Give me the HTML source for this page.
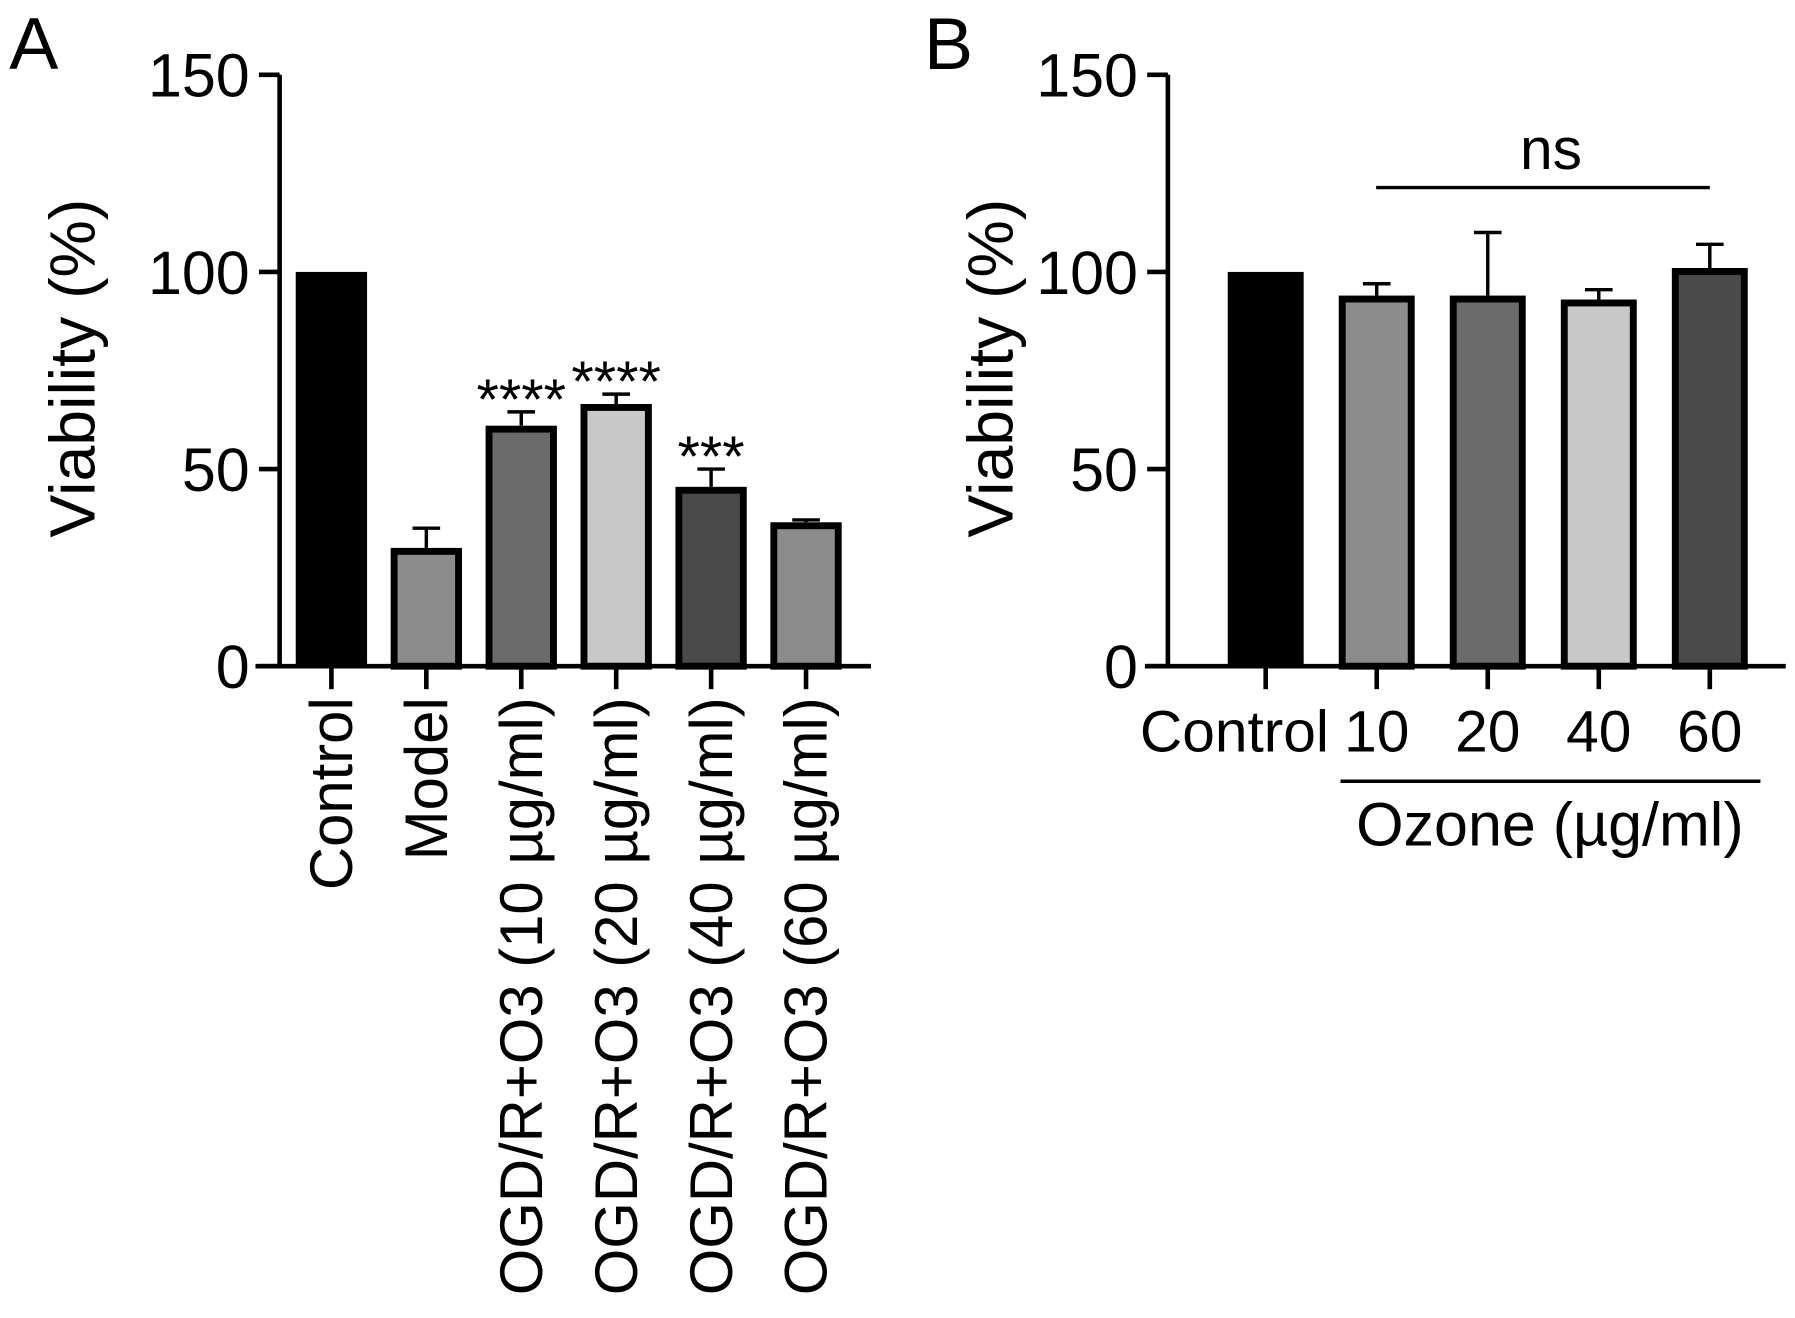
<!DOCTYPE html>
<html><head><meta charset="utf-8"><style>
html,body{margin:0;padding:0;background:#fff;}
svg{display:block;font-family:"Liberation Sans",Arial,sans-serif;}
</style></head><body>
<svg id="fig" width="1795" height="1318" viewBox="0 0 1560 1145.5">
<text x="8" y="60" font-size="64">A</text>
<text x="803" y="60" font-size="64">B</text>
<g id="pa"></g>
<g id="pb"></g>
</svg>
<script>
const catsA = ["Control","Model","OGD/R+O3 (10 µg/ml)","OGD/R+O3 (20 µg/ml)","OGD/R+O3 (40 µg/ml)","OGD/R+O3 (60 µg/ml)"];
const valsA = [100, 30, 61, 66.5, 45.5, 36.5];
const errA = [0, 5, 3.5, 2.5, 4.5, 0.6];
const fillsA = ["#000","#8c8c8c","#6b6b6b","#c8c8c8","#4a4a4a","#8c8c8c"];
const sigA = ["","","****","****","***",""];
const catsB = ["Control","10","20","40","60"];
const valsB = [100, 94, 94, 93, 101];
const errB = [0, 3, 16, 2.5, 6];
const fillsB = ["#000","#8c8c8c","#6b6b6b","#c8c8c8","#4a4a4a"];
const yTicks = [0, 50, 100, 150];

const NS="http://www.w3.org/2000/svg";
function mk(p,tag,attrs,txt){const e=document.createElementNS(NS,tag);for(const k in attrs)e.setAttribute(k,attrs[k]);if(txt!==undefined)e.textContent=txt;p.appendChild(e);return e;}
const y0=579, y150=65;
function yS(v){return y0-(v/150)*(y0-y150);}

function panel(g, axX, xStart, xEnd, centers, vals, errs, fills, bw, ylabX){
  mk(g,'line',{x1:axX,y1:y150,x2:axX,y2:y0+1.5,stroke:'#000','stroke-width':4});
  mk(g,'line',{x1:xStart,y1:y0,x2:xEnd,y2:y0,stroke:'#000','stroke-width':4});
  yTicks.forEach(t=>{
    mk(g,'line',{x1:axX-18,y1:yS(t),x2:axX,y2:yS(t),stroke:'#000','stroke-width':4});
    const tl=mk(g,'text',{x:axX-26,y:yS(t)+19,'font-size':53,'text-anchor':'end'},String(t));
    
    
  });
  const yl=mk(g,'text',{x:0,y:0,'font-size':56,'text-anchor':'middle',transform:`translate(${ylabX},320) rotate(-90)`},'Viability (%)');
  
  
  centers.forEach((c,i)=>{
    mk(g,'line',{x1:c,y1:y0,x2:c,y2:y0+20,stroke:'#000','stroke-width':4});
    if(errs[i]>0){
      mk(g,'line',{x1:c,y1:yS(vals[i]),x2:c,y2:yS(vals[i]+errs[i]),stroke:'#000','stroke-width':3});
      mk(g,'line',{x1:c-12,y1:yS(vals[i]+errs[i]),x2:c+12,y2:yS(vals[i]+errs[i]),stroke:'#000','stroke-width':3});
    }
    const sw=i===0?0:6;
    const b=mk(g,'rect',{x:c-bw/2+sw/2,y:yS(vals[i])+sw/2,width:bw-sw,height:y0-yS(vals[i])-sw/2,fill:fills[i],stroke:'#000','stroke-width':sw});
    
    
  });
}

const pa=document.getElementById('pa');
const centersA=catsA.map((_,i)=>288+i*82.5);
panel(pa,243,222,757,centersA,valsA,errA,fillsA,62,82);
catsA.forEach((c,i)=>{
  const t=mk(pa,'text',{x:0,y:0,'font-size':52,'text-anchor':'end',transform:`translate(${centersA[i]+18},606) rotate(-90)`},c);
  
  
  if(sigA[i]){
    const s=mk(pa,'text',{x:centersA[i],y:yS(valsA[i]+errA[i])+6,'font-size':50,'text-anchor':'middle'},sigA[i]);
    
    
  }
});

const pb=document.getElementById('pb');
const centersB=catsB.map((_,i)=>1100+i*96.5);
panel(pb,1015,995,1552,centersB,valsB,errB,fillsB,66,880);
catsB.forEach((c,i)=>{
  const anchor=i===0?'end':'middle';
  const x=i===0?1155:centersB[i];
  const t=mk(pb,'text',{x:x,y:653,'font-size':51,'text-anchor':anchor},c);
  
  
});
mk(pb,'line',{x1:1196,y1:163,x2:1486,y2:163,stroke:'#000','stroke-width':3});
const ns=mk(pb,'text',{x:1348,y:147,'font-size':51,'text-anchor':'middle'},'ns');


mk(pb,'line',{x1:1165,y1:679,x2:1530,y2:679,stroke:'#000','stroke-width':3});
const oz=mk(pb,'text',{x:1347,y:735,'font-size':53,'text-anchor':'middle'},'Ozone (µg/ml)');


</script>
</body></html>
